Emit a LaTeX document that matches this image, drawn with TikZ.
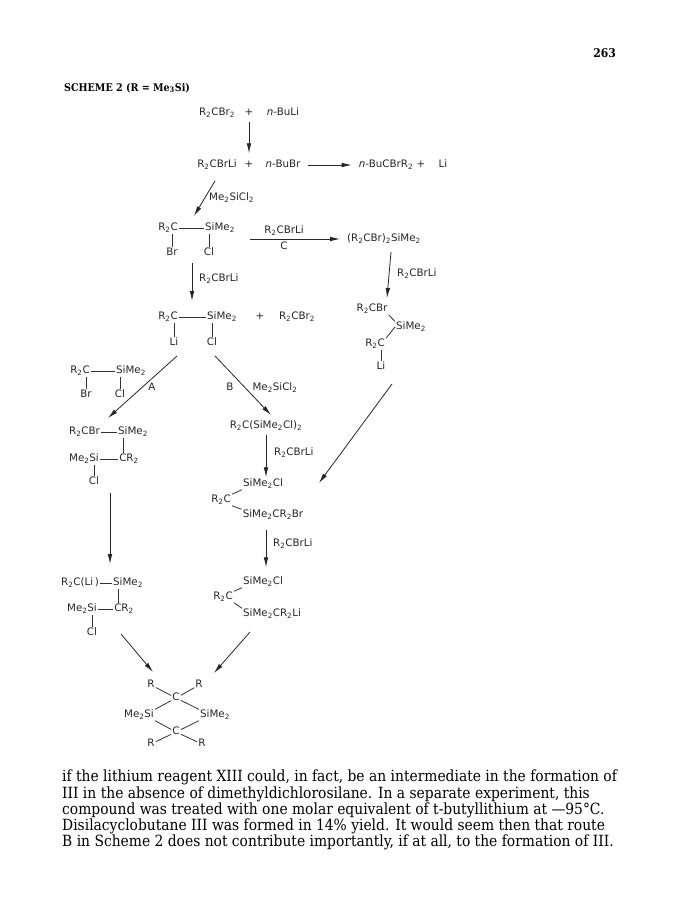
\documentclass[tikz,border=0pt]{standalone}
\usepackage{fontspec}
\setmainfont{DejaVu Serif Condensed}
\newfontfamily\chemfont{DejaVu Sans}
\usetikzlibrary{arrows.meta,calc}

\newcommand{\stwo}{\textsubscript{2}}

\tikzset{
	chem/.style={font=\chemfont\fontsize{10.3}{12}\selectfont,text=black!85,inner sep=1pt,text height=7pt,text depth=2pt},
	bond/.style={line width=0.8pt,color=black!80},
	rxn/.style={->,line width=0.8pt,color=black!85},
	para/.style={anchor=west,inner sep=0pt,font=\fontsize{15.4}{16}\selectfont,text=black},
}

\begin{document}
\begin{tikzpicture}[>={Latex[length=10pt,width=4.6pt]},x=1pt,y=-1pt]
\useasboundingbox (0,0) rectangle (680,912);

\node[para,font=\bfseries\fontsize{12}{14}\selectfont,anchor=east] (page) at (616,53) {263};
\node[para,font=\bfseries\fontsize{10.6}{12}\selectfont] (title) at (64,88) {SCHEME 2 (R = Me\textsubscript{3}Si)};

% top row
\node[chem] (dibromo) at (217,113) {R\stwo CBr\stwo};
\node[chem] (plusa) at (249,113) {+};
\node[chem] (buli) at (283,113) {\textit{n}-BuLi};
\node[chem] (carbenoid) at (217,165) {R\stwo CBrLi};
\node[chem] (plusb) at (249,165) {+};
\node[chem] (bubr) at (283,165) {\textit{n}-BuBr};
\node[chem] (coupled) at (386,165) {\textit{n}-BuCBrR\stwo};
\node[chem] (plusc) at (421,165) {+};
\node[chem] (lione) at (443,165) {Li};
\node[chem,anchor=west] (silane) at (208,198) {Me\stwo SiCl\stwo};

% first silane
\node[chem] (brc) at (168,228) {R\stwo C};
\node[chem] (brsi) at (220,228) {SiMe\stwo};
\node[chem] (brbr) at (172,253) {Br};
\node[chem] (brcl) at (209,253) {Cl};
\node[chem] (reagc) at (284,231) {R\stwo CBrLi};
\node[chem] (cross) at (284,247) {C};
\node[chem] (bis) at (384,239) {(R\stwo CBr)\stwo SiMe\stwo};
\node[chem,anchor=west] (reagd) at (396,274) {R\stwo CBrLi};
\node[chem,anchor=west] (reage) at (198,279) {R\stwo CBrLi};

% lithio silane
\node[chem] (lic) at (168,317) {R\stwo C};
\node[chem] (lisi) at (222,317) {SiMe\stwo};
\node[chem] (plusd) at (260,317) {+};
\node[chem] (dibromob) at (297,317) {R\stwo CBr\stwo};
\node[chem] (lili) at (174,343) {Li};
\node[chem] (licl) at (212,343) {Cl};

% right branch
\node[chem] (rcbr) at (372,309) {R\stwo CBr};
\node[chem] (rsi) at (411,327) {SiMe\stwo};
\node[chem] (rc) at (375,344) {R\stwo C};
\node[chem] (rli) at (381,367) {Li};

% left branch
\node[chem] (lc) at (80,371) {R\stwo C};
\node[chem] (lsi) at (131,371) {SiMe\stwo};
\node[chem] (lbr) at (86,395) {Br};
\node[chem] (lcl) at (120,395) {Cl};
\node[chem] (routea) at (152,388) {A};
\node[chem] (routeb) at (230,388) {B};
\node[chem] (silaneb) at (275,388) {Me\stwo SiCl\stwo};

\node[chem] (acbr) at (84.5,432) {R\stwo CBr};
\node[chem] (asi) at (133,432) {SiMe\stwo};
\node[chem] (ame) at (84,459) {Me\stwo Si};
\node[chem] (acr) at (129,459) {CR\stwo};
\node[chem] (acl) at (94,482) {Cl};

\node[chem] (bcli) at (80,583) {R\stwo C(Li\,)};
\node[chem] (bsi) at (128,583) {SiMe\stwo};
\node[chem] (bme) at (82,609) {Me\stwo Si};
\node[chem] (bcr) at (124,609) {CR\stwo};
\node[chem] (bcl) at (92,633) {Cl};

% middle branch
\node[chem] (tris) at (266,426) {R\stwo C(SiMe\stwo Cl)\stwo};
\node[chem,anchor=west] (reagf) at (273,453) {R\stwo CBrLi};
\node[chem] (mcl) at (263,484) {SiMe\stwo Cl};
\node[chem] (mc) at (221,500) {R\stwo C};
\node[chem] (mbr) at (273,515) {SiMe\stwo CR\stwo Br};
\node[chem,anchor=west] (reagg) at (272,544) {R\stwo CBrLi};
\node[chem] (ncl) at (263,582) {SiMe\stwo Cl};
\node[chem] (nc) at (223,597) {R\stwo C};
\node[chem] (nli) at (272,614) {SiMe\stwo CR\stwo Li};

% ring
\node[chem] (rnw) at (151,685) {R};
\node[chem] (rne) at (199,685) {R};
\node[chem] (ctop) at (176,698) {C};
\node[chem] (sileft) at (139,715) {Me\stwo Si};
\node[chem] (siright) at (215,715) {SiMe\stwo};
\node[chem] (cbot) at (176,732) {C};
\node[chem] (rsw) at (151,744) {R};
\node[chem] (rse) at (202,744) {R};

% bonds
\foreach \a/\b in {brc/brsi,lic/lisi,lc/lsi,acbr/asi,ame/acr,bcli/bsi,bme/bcr,rnw/ctop,rne/ctop,rsw/cbot,rse/cbot}{
	\draw[bond] (\a) -- (\b);
}
\foreach \up/\low in {brc/brbr,brsi/brcl,lic/lili,lisi/licl,rc/rli,lc/lbr,lsi/lcl,ame/acl,bme/bcl}{
	\draw[bond] (\low.north) -- (\low.north |- \up.south);
}
\draw[bond] (acr.north -| 123,0) -- (asi.south -| 123,0);
\draw[bond] (bcr.north -| 118,0) -- (bsi.south -| 118,0);
\draw[bond] (rcbr.south east) -- (rsi.north west);
\draw[bond] (rsi.west) -- (rc.north east);
\foreach \c/\p/\q in {mc/mcl/mbr,nc/ncl/nli}{
	\draw[bond] (\c.north east) -- (\p.south west);
	\draw[bond] (\c.south east) -- (\q.north west);
}
\draw[bond] (sileft.north east) -- (ctop);
\draw[bond] (sileft.south east) -- (cbot);
\draw[bond] (siright.north west) -- (ctop);
\draw[bond] (siright.south west) -- (cbot);

% arrow ends which meet no node
\coordinate (ga) at (215,181);
\coordinate (gb) at (194,216);
\coordinate (gc) at (192,263);
\coordinate (gd) at (192,301);
\coordinate (ge) at (391,252);
\coordinate (gf) at (387,298);
\coordinate (gg) at (177,356);
\coordinate (gh) at (108,418);
\coordinate (gi) at (215,356);
\coordinate (gj) at (271,415);
\coordinate (gk) at (392,384);
\coordinate (gl) at (319,483);
\coordinate (gm) at (110,493);
\coordinate (gn) at (110,564);
\coordinate (go) at (121,634);
\coordinate (gp) at (153,672);
\coordinate (gq) at (250,632);
\coordinate (gr) at (214,673);

\foreach \from/\to in {ga/gb,gc/gd,ge/gf,gg/gh,gi/gj,gk/gl,gm/gn,go/gp,gq/gr}{
	\draw[rxn] (\from) -- (\to);
}
\draw[rxn,shorten <=3pt,shorten >=6pt] (plusa) -- (plusb);
\draw[rxn,shorten <=6pt,shorten >=6pt] (bubr) -- (coupled);
\draw[rxn,shorten <=14pt,shorten >=6pt] (brsi.east |- bis.west) -- (bis.west);
\draw[rxn,shorten <=3pt,shorten >=1pt] (tris.south) -- (mcl.north -| tris.south);
\draw[rxn,shorten <=9pt,shorten >=9pt] (mbr.south -| tris.south) -- (ncl.north -| tris.south);

% text below the scheme
\node[para] (linea) at (62,777) {if the lithium reagent XIII could, in fact, be an intermediate in the formation of};
\node[para] (lineb) at (62,794) {III in the absence of dimethyldichlorosilane. In a separate experiment, this};
\node[para] (linec) at (62,810) {compound was treated with one molar equivalent of t-butyllithium at —95°C.};
\node[para] (lined) at (62,826) {Disilacyclobutane III was formed in 14\% yield. It would seem then that route};
\node[para] (linee) at (62,842) {B in Scheme 2 does not contribute importantly, if at all, to the formation of III.};

\end{tikzpicture}
\end{document}
